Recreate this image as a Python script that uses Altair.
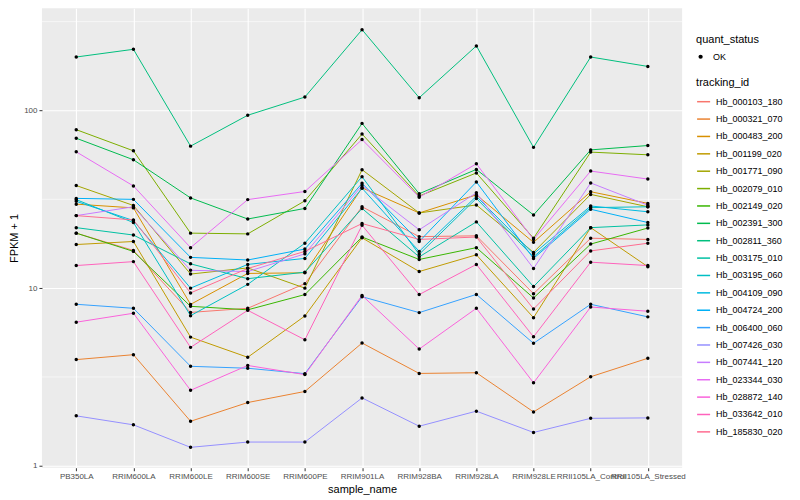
import altair as alt
import pandas as pd

samples = ["PB350LA", "RRIM600LA", "RRIM600LE", "RRIM600SE", "RRIM600PE", "RRIM901LA",
           "RRIM928BA", "RRIM928LA", "RRIM928LE", "RRII105LA_Control", "RRII105LA_Stressed"]

tracking_ids = ["Hb_000103_180", "Hb_000321_070", "Hb_000483_200", "Hb_001199_020", "Hb_001771_090",
                "Hb_002079_010", "Hb_002149_020", "Hb_002391_300", "Hb_002811_360", "Hb_003175_010",
                "Hb_003195_060", "Hb_004109_090", "Hb_004724_200", "Hb_006400_060", "Hb_007426_030",
                "Hb_007441_120", "Hb_023344_030", "Hb_028872_140", "Hb_033642_010", "Hb_185830_020"]

hue_colors = ["#F8766D", "#EA8331", "#D89000", "#C09B00", "#A3A500", "#7CAE00", "#39B600", "#00BB4E",
              "#00BF7D", "#00C1A3", "#00BFC4", "#00BAE0", "#00B0F6", "#35A2FF", "#9590FF", "#C77CFF",
              "#E76BF3", "#FA62DB", "#FF62BC", "#FF6C91"]

# FPKM + 1 per sample, one list per gene
hb_000103_180 = [20.4, 16.3, 7.3, 7.7, 10.6, 28.7, 19.5, 19.7, 9.3, 19.1, 18.8]
hb_000321_070 = [3.96, 4.22, 1.78, 2.27, 2.62, 4.91, 3.31, 3.34, 2.01, 3.17, 4.03]
hb_000483_200 = [29.7, 28.3, 8.1, 12.1, 12.2, 36.7, 26.5, 33.5, 18.1, 34.9, 30.0]
hb_001199_020 = [17.6, 18.3, 5.3, 4.08, 6.97, 19.2, 12.4, 15.4, 6.82, 21.9, 13.2]
hb_001771_090 = [37.8, 29.2, 12.0, 13.0, 10.0, 46.4, 26.5, 29.4, 15.9, 33.7, 28.7]
hb_002079_010 = [78.0, 59.3, 20.4, 20.2, 31.0, 73.7, 33.0, 44.5, 19.1, 58.3, 56.3]
hb_002149_020 = [20.4, 16.1, 7.9, 7.55, 9.2, 19.4, 14.5, 16.9, 8.8, 17.7, 21.8]
hb_002391_300 = [69.8, 52.8, 32.2, 24.5, 28.1, 84.6, 34.0, 46.6, 25.8, 60.0, 63.5]
hb_002811_360 = [200.0, 221.0, 63.0, 94.0, 119.0, 285.0, 118.0, 231.0, 62.0, 200.0, 177.0]
hb_003175_010 = [21.9, 19.9, 13.7, 11.3, 12.3, 28.1, 15.0, 23.6, 10.2, 21.9, 22.7]
hb_003195_060 = [31.5, 23.4, 7.0, 10.5, 17.9, 42.4, 15.5, 32.0, 15.0, 28.4, 28.7]
hb_004109_090 = [30.8, 24.0, 10.0, 13.6, 14.7, 36.5, 16.1, 32.9, 15.6, 29.0, 26.9]
hb_004724_200 = [32.0, 31.6, 14.9, 14.4, 16.6, 38.9, 18.3, 39.6, 14.7, 27.8, 23.4]
hb_006400_060 = [8.11, 7.70, 3.63, 3.54, 3.30, 8.95, 7.28, 9.22, 4.89, 8.11, 6.89]
hb_007426_030 = [1.91, 1.70, 1.27, 1.36, 1.36, 2.41, 1.67, 2.03, 1.54, 1.85, 1.86]
hb_007441_120 = [25.6, 28.7, 12.6, 12.4, 15.6, 37.8, 21.3, 34.4, 12.9, 39.1, 29.3]
hb_023344_030 = [58.5, 37.6, 16.9, 31.5, 35.0, 68.6, 32.5, 50.1, 18.8, 45.6, 41.1]
hb_028872_140 = [6.43, 7.22, 2.66, 3.67, 3.26, 9.1, 4.54, 7.70, 2.93, 7.83, 7.41]
hb_033642_010 = [13.4, 14.1, 4.64, 7.5, 5.12, 22.6, 9.2, 13.6, 5.32, 14.0, 13.4]
hb_185830_020 = [25.6, 24.2, 9.4, 12.9, 16.1, 23.1, 18.8, 19.4, 7.63, 16.2, 17.9]

series = [hb_000103_180, hb_000321_070, hb_000483_200, hb_001199_020, hb_001771_090,
          hb_002079_010, hb_002149_020, hb_002391_300, hb_002811_360, hb_003175_010,
          hb_003195_060, hb_004109_090, hb_004724_200, hb_006400_060, hb_007426_030,
          hb_007441_120, hb_023344_030, hb_028872_140, hb_033642_010, hb_185830_020]

y_major = [1, 10, 100]
y_minor = [3.1623, 31.623, 316.23]

rows = []
for tid, vals in zip(tracking_ids, series):
    for i, (s, v) in enumerate(zip(samples, vals)):
        rows.append({"tracking_id": tid, "sample_name": s, "idx": i, "fpkm1": v, "quant_status": "OK"})
df = pd.DataFrame(rows)
minor_df = pd.DataFrame({"fpkm1": y_minor})

FONT = "Liberation Sans"

x_enc = alt.X("sample_name:N", title="sample_name",
              scale=alt.Scale(type="point", domain=samples, padding=0.6),
              axis=alt.Axis(labelAngle=0, labelOverlap=False, grid=True))
y_scale = alt.Scale(type="log", domain=[0.975, 376], nice=False)
y_axis = alt.Axis(values=y_major, format="~g", grid=True, title="FPKM + 1")
y_enc = alt.Y("fpkm1:Q", title="FPKM + 1", scale=y_scale, axis=y_axis)

minor = alt.Chart(minor_df).mark_rule(color="white", strokeWidth=0.6).encode(
    y=alt.Y("fpkm1:Q", title="FPKM + 1", scale=y_scale, axis=y_axis)
)

lines = alt.Chart(df).mark_line(strokeWidth=1).encode(
    x=x_enc,
    y=y_enc,
    stroke=alt.Stroke("tracking_id:N",
                      scale=alt.Scale(domain=tracking_ids, range=hue_colors),
                      legend=alt.Legend(title="tracking_id", orient="none", legendX=655, legendY=69,
                                        symbolType="stroke", symbolStrokeWidth=1.5, symbolSize=170,
                                        labelFontSize=9, titleFontSize=11, rowPadding=4.4,
                                        labelOffset=5)),
    order=alt.Order("idx:Q"),
)

points = alt.Chart(df).mark_point(filled=True, size=12, opacity=1).encode(
    x=x_enc,
    y=y_enc,
    color=alt.Color("quant_status:N",
                    scale=alt.Scale(domain=["OK"], range=["black"]),
                    legend=alt.Legend(title="quant_status", orient="none", legendX=655, legendY=26,
                                      symbolType="circle", symbolSize=18, labelFontSize=9,
                                      titleFontSize=11, labelOffset=8, titlePadding=7)),
)

chart = alt.layer(minor, lines, points).properties(
    width=641, height=460,
    autosize=alt.AutoSizeParams(type="none"),
    padding={"left": 34, "top": 0, "right": 110, "bottom": 32},
).configure(
    font=FONT,
).configure_view(
    fill="#EBEBEB", stroke=None
).configure_axis(
    domain=False, gridColor="white", gridWidth=1.1, tickColor="#333333", tickSize=3,
    labelColor="#4D4D4D", labelFontSize=8, labelPadding=2, titleFontSize=11,
    titleFontWeight="normal", titleColor="black", labelFont=FONT, titleFont=FONT
).configure_axisX(
    titlePadding=3
).configure_axisY(
    titlePadding=4
).configure_legend(
    titleFontWeight="normal", titleColor="black", labelColor="black",
    labelFont=FONT, titleFont=FONT, titlePadding=6
)

chart.save("out.html", embed_options={"renderer": "svg", "actions": False})
